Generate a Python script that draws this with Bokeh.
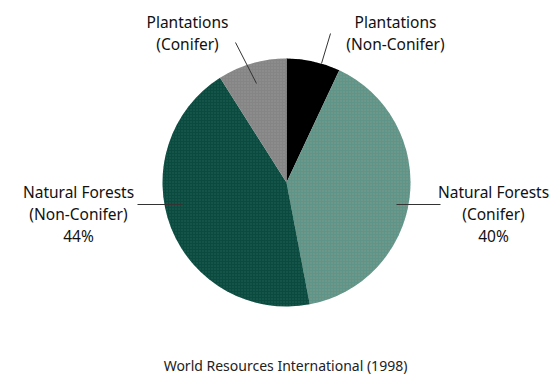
from bokeh.plotting import figure
from bokeh.models import Range1d, ColumnDataSource
from bokeh.embed import file_html
from bokeh.resources import INLINE
from bokeh.core.properties import value
import math

# ---- data ----
categories = ["Plantations (Non-Conifer)", "Natural Forests (Conifer)",
              "Natural Forests (Non-Conifer)", "Plantations (Conifer)"]
shares = [7, 40, 44, 9]
colors = ["#000000", "#5f9489", "#0b4a3e", "#858585"]
hatch_colors = ["#000000", "#8a9f8a", "#2a6a5c", "#9a9a9a"]

label_lines = [
    ["Plantations", "(Non-Conifer)"],
    ["Natural Forests", "(Conifer)", "40%"],
    ["Natural Forests", "(Non-Conifer)", "44%"],
    ["Plantations", "(Conifer)"],
]
caption = "World Resources International (1998)"

W, H = 553, 378
FONT = "Noto Sans"

p = figure(width=W, height=H, output_backend="svg", toolbar_location=None,
           x_range=Range1d(0, W), y_range=Range1d(0, H), min_border=0)
p.axis.visible = False
p.grid.visible = False
p.outline_line_color = None
p.background_fill_color = "white"
p.border_fill_color = "white"

cx, cy, r = 286, H - 182, 124

total = sum(shares)
starts, ends = [], []
cum = 0
for s in shares:
    a0 = math.pi / 2 - 2 * math.pi * cum / total
    cum += s
    a1 = math.pi / 2 - 2 * math.pi * cum / total
    starts.append(a1)
    ends.append(a0)

src = ColumnDataSource(dict(x=[cx] * 4, y=[cy] * 4, start=starts, end=ends,
                            color=colors, hcolor=hatch_colors, cat=categories))
p.wedge(x="x", y="y", radius=r, start_angle="start", end_angle="end",
        fill_color="color", line_color=None, hatch_pattern="dot",
        hatch_color="hcolor", hatch_scale=3, hatch_alpha=0.8, source=src)

# leader lines (layout positions)
leaders = [
    ([330, 321], [33, 63]),
    ([396, 440], [204, 204]),
    ([137, 182], [204, 204]),
    ([235, 256], [42, 83]),
]
for xs, ys in leaders:
    p.line(xs, [H - y for y in ys], line_color="#333333", line_width=1)

# label positions (layout)
label_pos = [(395, 21, 22), (493, 191, 22), (78, 191, 22), (187, 21, 22)]
for lines, (lx, ly, step) in zip(label_lines, label_pos):
    p.text(x=[lx] * len(lines), y=[H - (ly + i * step) for i in range(len(lines))],
           text=lines, text_align="center", text_baseline="middle",
           text_font=value(FONT), text_font_size="15.5px", text_color="#111111")

p.text(x=[285], y=[H - 365], text=[caption], text_align="center",
       text_baseline="middle", text_font=value(FONT), text_font_size="14px",
       text_color="#222222")

open("out.html", "w").write(file_html(p, INLINE))
